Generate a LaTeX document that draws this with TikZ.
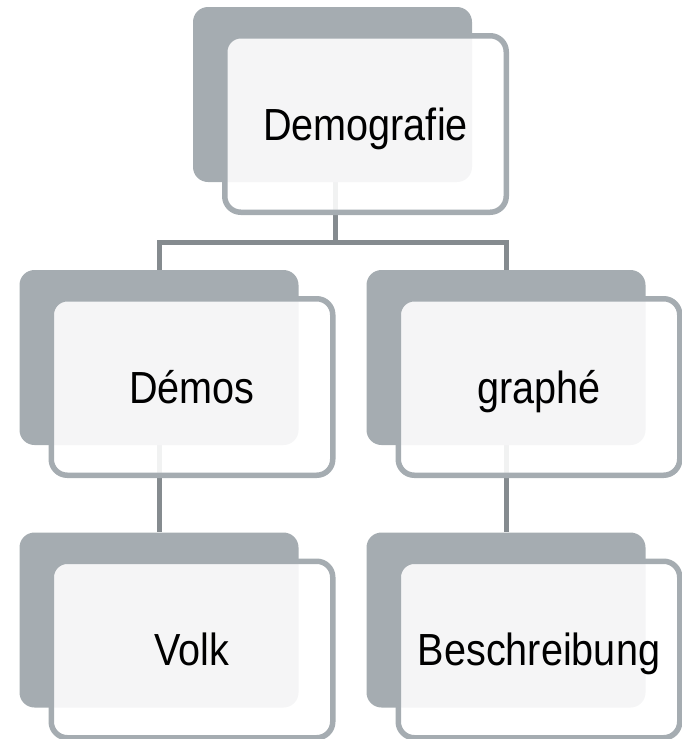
\documentclass[tikz,border=0pt]{standalone}
\usepackage{fontspec}
\setmainfont{Liberation Sans}
\usetikzlibrary{calc}
\definecolor{backgray}{HTML}{A5ACB1}
\definecolor{linegray}{HTML}{858B8F}
\tikzset{
  backbox/.style={rectangle, rounded corners=15pt, fill=backgray, draw=none,
    minimum width=279pt, minimum height=175pt, inner sep=0pt},
  frontbox/.style={rectangle, rounded corners=16pt, draw=backgray, line width=5.5pt,
    fill=white, fill opacity=0.89, text opacity=1, text=black,
    minimum width=281.5pt, minimum height=176.5pt, inner sep=0pt,
    text height=32pt, text depth=0pt,
    font=\fontsize{45}{54}\selectfont},
  conn/.style={draw=linegray, line width=5pt},
}
\newcommand{\sq}[1]{\scalebox{0.88}[1]{#1}}
\begin{document}
\begin{tikzpicture}[x=1pt,y=-1pt]
\useasboundingbox (0,0) rectangle (682,739);
% back box positions
\coordinate (cT) at (332.5,94.5);
\coordinate (cL) at (159,357.5);
\coordinate (cR) at (506,357.5);
\coordinate (cBL) at (159,620);
\coordinate (cBR) at (506,620);
% invisible outlines of back boxes, for the connectors
\node[backbox, fill=none] (bT0) at (cT) {};
\node[backbox, fill=none] (bL0) at (cL) {};
\node[backbox, fill=none] (bR0) at (cR) {};
\node[backbox, fill=none] (bBL0) at (cBL) {};
\node[backbox, fill=none] (bBR0) at (cBR) {};
\coordinate (jn) at (335,242);
\draw[conn] (bT0.south -| jn) -- (jn);
\draw[conn] (bL0.north) |- (jn) -| (bR0.north);
\draw[conn] (bL0.south) -- (bBL0.north);
\draw[conn] (bR0.south) -- (bBR0.north);
% boxes
\node[backbox] (bT) at (cT) {};
\node[frontbox] (fT) at ($(cT)+(33,29.5)$) {\sq{Demografie}};
\node[backbox] (bL) at (cL) {};
\node[frontbox] (fL) at ($(cL)+(33,29.5)$) {\sq{Démos}};
\node[backbox] (bR) at (cR) {};
\node[frontbox] (fR) at ($(cR)+(33,29.5)$) {\sq{graphé}};
\node[backbox] (bBL) at (cBL) {};
\node[frontbox] (fBL) at ($(cBL)+(33,29.5)$) {\sq{Volk}};
\node[backbox] (bBR) at (cBR) {};
\node[frontbox] (fBR) at ($(cBR)+(33,29.5)$) {\sq{Beschreibung}};
\end{tikzpicture}
\end{document}
